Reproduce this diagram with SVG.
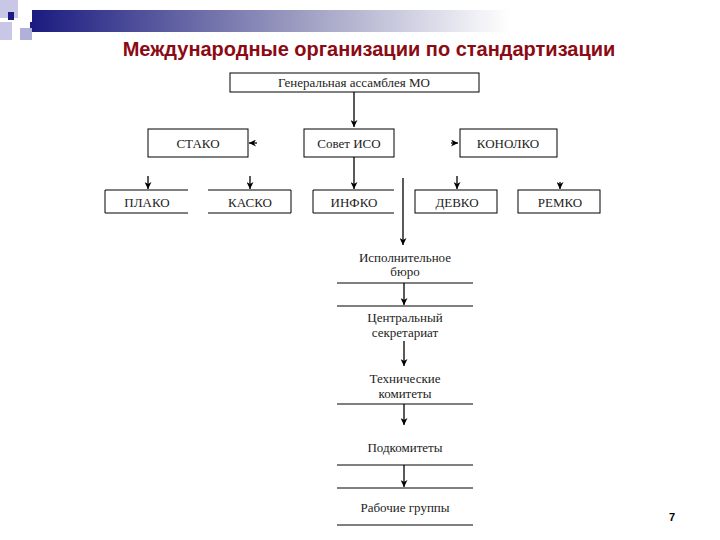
<svg xmlns="http://www.w3.org/2000/svg" width="720" height="540" viewBox="0 0 720 540">
<defs>
<linearGradient id="bar" x1="0" x2="1"><stop offset="0" stop-color="#1a1a80"/><stop offset="0.55" stop-color="#9a9ac0"/><stop offset="1" stop-color="#ffffff"/></linearGradient>
<marker id="ah" viewBox="0 0 10 10" refX="10" refY="5" markerWidth="7" markerHeight="7" markerUnits="userSpaceOnUse" orient="auto"><path d="M0,0 L10,5 L0,10 L3,5 Z" fill="#000"/></marker>
</defs>
<style>
.t{font-family:"Liberation Serif",serif;font-size:13px;fill:#222;text-anchor:middle}
.b{fill:#fff;stroke:#000;stroke-width:1}
.l{stroke:#000;stroke-width:1;fill:none}
.c{stroke:#000;stroke-width:1.3;fill:none;marker-end:url(#ah)}
</style>
<rect width="720" height="540" fill="#fff"/>
<rect x="30" y="10" width="480" height="22" fill="url(#bar)"/>
<rect x="0" y="0" width="18" height="18" fill="#c8c8e6"/>
<rect x="18" y="8" width="14" height="14" fill="#ffffff"/>
<rect x="0" y="22" width="12" height="18" fill="#c8c8e6"/>
<rect x="20" y="28" width="12" height="12" fill="#b0b0d8"/>
<rect x="8" y="12" width="6" height="8" fill="#1a1a80"/>
<text x="369" y="56" font-family="Liberation Sans,Arial,sans-serif" font-size="20" font-weight="bold" fill="#8b0a14" text-anchor="middle">Международные организации по стандартизации</text>
<g id="connectors">
<path class="c" d="M354,92 V127"/>
<path class="c" d="M257,143 H249"/>
<path class="c" d="M451,143 H458"/>
<path class="c" d="M354,157 V189"/>
<path class="c" d="M148,176 V189"/>
<path class="c" d="M250,176 V189"/>
<path class="c" d="M457,176 V189"/>
<path class="c" d="M560,182 V189"/>
<path class="c" d="M403,178 V245"/>
<path class="c" d="M404,283 V305"/>
<path class="c" d="M404,341 V366"/>
<path class="c" d="M404,404 V425"/>
<path class="c" d="M404,465 V487"/>
</g>
<g id="gen"><rect class="b" x="230" y="73" width="249" height="19"/><text class="t" x="354" y="87">Генеральная ассамблея МО</text></g>
<g id="stako"><rect class="b" x="148" y="129" width="100" height="28"/><text class="t" x="198" y="148">СТАКО</text></g>
<g id="sovet"><rect class="b" x="304" y="129" width="90" height="28"/><text class="t" x="349" y="148">Совет ИСО</text></g>
<g id="konolko"><rect class="b" x="460" y="129" width="97" height="28"/><text class="t" x="508" y="148">КОНОЛКО</text></g>
<g id="plako"><path class="l" d="M188,190 H105 V213 H188"/><text class="t" x="147" y="207">ПЛАКО</text></g>
<g id="kasko"><path class="l" d="M208,190 H291 V213 H208"/><text class="t" x="250" y="207">КАСКО</text></g>
<g id="infko"><path class="l" d="M394,190 H313 V213 H394"/><text class="t" x="354" y="207">ИНФКО</text></g>
<g id="devko"><rect class="b" x="415" y="190" width="82" height="23"/><text class="t" x="457" y="207">ДЕВКО</text></g>
<g id="remko"><rect class="b" x="518" y="190" width="82" height="23"/><text class="t" x="560" y="207">РЕМКО</text></g>
<g id="ispbur"><text class="t" x="405" y="262">Исполнительное</text><text class="t" x="405" y="276">бюро</text><path class="l" d="M337,283 H473"/></g>
<g id="centr"><path class="l" d="M337,306 H473"/><text class="t" x="405" y="322">Центральный</text><text class="t" x="405" y="337">секретариат</text></g>
<g id="tech"><text class="t" x="405" y="383">Технические</text><text class="t" x="405" y="398">комитеты</text><path class="l" d="M337,404 H473"/></g>
<g id="podk"><text class="t" x="405" y="452">Подкомитеты</text><path class="l" d="M337,465 H473"/></g>
<g id="rab"><path class="l" d="M337,488 H473"/><text class="t" x="405" y="512">Рабочие группы</text><path class="l" d="M337,525 H473"/></g>
<text x="672" y="521" font-family="Liberation Sans,Arial,sans-serif" font-size="11" font-weight="bold" fill="#000" text-anchor="middle">7</text>
</svg>
